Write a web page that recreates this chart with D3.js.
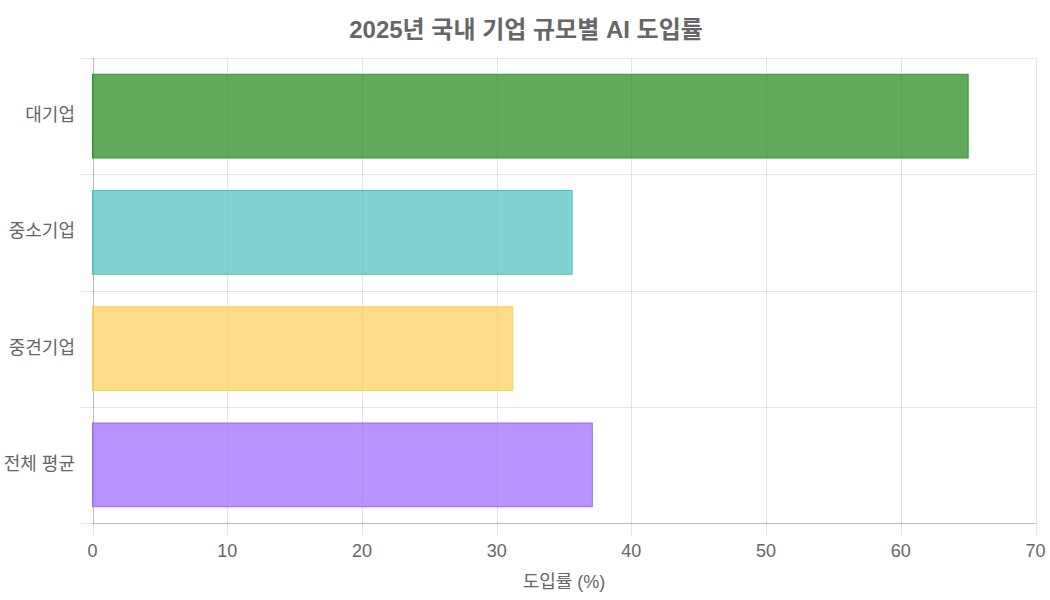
<!DOCTYPE html>
<html><head><meta charset="utf-8">
<script src="https://cdn.jsdelivr.net/npm/d3@7"></script>
<style>body{margin:0;background:#fff}svg{font-family:"Liberation Sans","Noto Sans CJK KR",sans-serif}</style>
</head><body><svg id="c" width="1050" height="600"></svg>
<script>
const categories = ["대기업", "중소기업", "중견기업", "전체 평균"];
const values = [65, 35.6, 31.2, 37.1];
const fills = ["rgba(30,132,24,0.7)", "rgba(75,192,192,0.7)", "rgba(255,205,86,0.7)", "rgba(153,102,255,0.7)"];
const strokes = ["#2f9a2a", "#4bc0c0", "#ffcd56", "#9966ff"];
const xTicks = [0, 10, 20, 30, 40, 50, 60, 70];
const title = "2025년 국내 기업 규모별 AI 도입률";
const xTitle = "도입률 (%)";

const svg = d3.select("#c");
const L = 92.5, R = 1035.5, T = 58, B = 523;
const x = d3.scaleLinear().domain([0, 70]).range([L, R]);
const y = d3.scaleBand().domain(categories).range([T, B]);
const grid = "rgba(0,0,0,0.1)";

// vertical grid lines
svg.append("g").selectAll("line").data(xTicks).join("line")
  .attr("x1", d => Math.round(x(d)) + 0.5).attr("x2", d => Math.round(x(d)) + 0.5)
  .attr("y1", T).attr("y2", B + 12).attr("stroke", grid);
// horizontal grid lines at band boundaries
const bounds = categories.map(c => y(c)).concat([B]);
svg.append("g").selectAll("line").data(bounds).join("line")
  .attr("x1", L - 12).attr("x2", R).attr("y1", d => Math.round(d) + 0.5).attr("y2", d => Math.round(d) + 0.5)
  .attr("stroke", grid);
// axis lines
svg.append("line").attr("x1", Math.round(L) + 0.5).attr("x2", Math.round(L) + 0.5).attr("y1", T).attr("y2", B)
  .attr("stroke", "rgba(0,0,0,0.18)");
svg.append("line").attr("x1", L).attr("x2", R).attr("y1", Math.round(B) + 0.5).attr("y2", Math.round(B) + 0.5)
  .attr("stroke", "rgba(0,0,0,0.18)");

// bars
const bw = y.bandwidth() * 0.72;
svg.append("g").selectAll("rect").data(categories).join("rect")
  .attr("x", x(0)).attr("y", d => y(d) + (y.bandwidth() - bw) / 2)
  .attr("width", (d, i) => x(values[i]) - x(0)).attr("height", bw)
  .attr("fill", (d, i) => fills[i]).attr("stroke", (d, i) => strokes[i]).attr("stroke-width", 1);

// x tick labels
svg.append("g").selectAll("text").data(xTicks).join("text")
  .attr("x", d => x(d)).attr("y", B + 34).attr("text-anchor", "middle")
  .attr("fill", "#666").attr("font-size", 18).text(d => d);
// y labels
svg.append("g").selectAll("text").data(categories).join("text")
  .attr("x", L - 17.5).attr("y", d => y(d) + y.bandwidth() / 2 + 5).attr("text-anchor", "end")
  .attr("fill", "#666").attr("font-size", 18).text(d => d);
// titles
svg.append("text").attr("x", 526).attr("y", 38).attr("text-anchor", "middle")
  .attr("fill", "#666").attr("font-size", 24).attr("font-weight", "bold").text(title);
svg.append("text").attr("x", (L + R) / 2).attr("y", 588).attr("text-anchor", "middle")
  .attr("fill", "#666").attr("font-size", 18).text(xTitle);
</script></body></html>
